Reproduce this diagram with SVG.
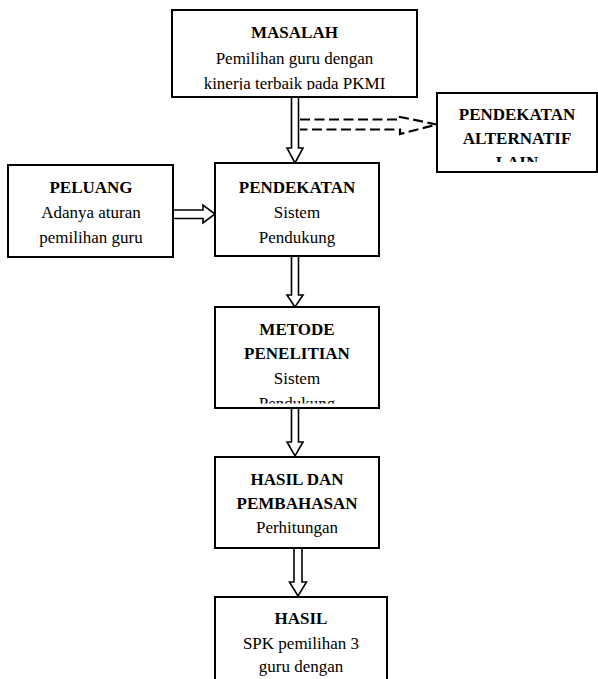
<svg xmlns="http://www.w3.org/2000/svg" width="598" height="679" viewBox="0 0 598 679">
<style>
.box{fill:#fff;stroke:#000;stroke-width:2}
.arr{fill:#fff;stroke:#000;stroke-width:1.6;stroke-linejoin:miter}
.dash{fill:none;stroke:#000;stroke-width:2.2;stroke-dasharray:10,4.5}
text{font-family:"Liberation Serif","Times New Roman",serif;font-size:17px;text-anchor:middle;fill:#000}
.b{font-weight:bold}
</style>
<defs>
<clipPath id="c1"><rect x="172" y="10" width="245" height="80"/></clipPath>
<clipPath id="c2"><rect x="437" y="93" width="160" height="69"/></clipPath>
<clipPath id="c3"><rect x="215" y="307" width="164" height="96.5"/></clipPath>
</defs>
<rect width="598" height="679" fill="#fff"/>
<g id="connectors">
<polygon class="arr" points="291.5,97 291.5,148 287,148 295,163 303,148 298.5,148 298.5,97"/>
<path class="dash" d="M300,119.5 L400,119.5 L400,117 L437,124.5 L400,134 L400,129.5 L300,129.5"/>
<polygon class="arr" points="173,210 203,210 203,205 215,214 203,223 203,218.5 173,218.5"/>
<polygon class="arr" points="291.5,256 291.5,295 287,295 295,307 303,295 298.5,295 298.5,256"/>
<polygon class="arr" points="291.5,408 291.5,442 287,442 295,456 303,442 298.5,442 298.5,408"/>
<polygon class="arr" points="294,548 294,582 289.5,582 298,596 306.5,582 302,582 302,548"/>
</g>
<g id="masalah">
<rect class="box" x="172" y="10" width="245" height="87"/>
<g clip-path="url(#c1)">
<text class="b" x="294.5" y="38">MASALAH</text>
<text x="294.5" y="64">Pemilihan guru dengan</text>
<text x="294.5" y="88.5">kinerja terbaik pada PKMI</text>
</g>
</g>
<g id="alternatif">
<rect class="box" x="437" y="93" width="160" height="79"/>
<g clip-path="url(#c2)">
<text class="b" x="517" y="119.5">PENDEKATAN</text>
<text class="b" x="517" y="143.5">ALTERNATIF</text>
<text class="b" x="517" y="167.5">LAIN</text>
</g>
</g>
<g id="peluang">
<rect class="box" x="8" y="165" width="165" height="92"/>
<text class="b" x="91" y="193">PELUANG</text>
<text x="91" y="218">Adanya aturan</text>
<text x="91" y="242.5">pemilihan guru</text>
</g>
<g id="pendekatan">
<rect class="box" x="215" y="163" width="164" height="93"/>
<text class="b" x="297" y="193">PENDEKATAN</text>
<text x="297" y="218">Sistem</text>
<text x="297" y="242.5">Pendukung</text>
</g>
<g id="metode">
<rect class="box" x="215" y="307" width="164" height="101"/>
<g clip-path="url(#c3)">
<text class="b" x="297" y="334.5">METODE</text>
<text class="b" x="297" y="359">PENELITIAN</text>
<text x="297" y="384">Sistem</text>
<text x="297" y="408.5">Pendukung</text>
</g>
</g>
<g id="hasil-dan-pembahasan">
<rect class="box" x="215" y="457" width="164" height="91"/>
<text class="b" x="297" y="484.5">HASIL DAN</text>
<text class="b" x="297" y="508.5">PEMBAHASAN</text>
<text x="297" y="532.5">Perhitungan</text>
</g>
<g id="hasil">
<rect class="box" x="215" y="597" width="172" height="100"/>
<text class="b" x="301" y="624">HASIL</text>
<text x="301" y="648.5">SPK pemilihan 3</text>
<text x="301" y="672">guru dengan</text>
</g>
</svg>
